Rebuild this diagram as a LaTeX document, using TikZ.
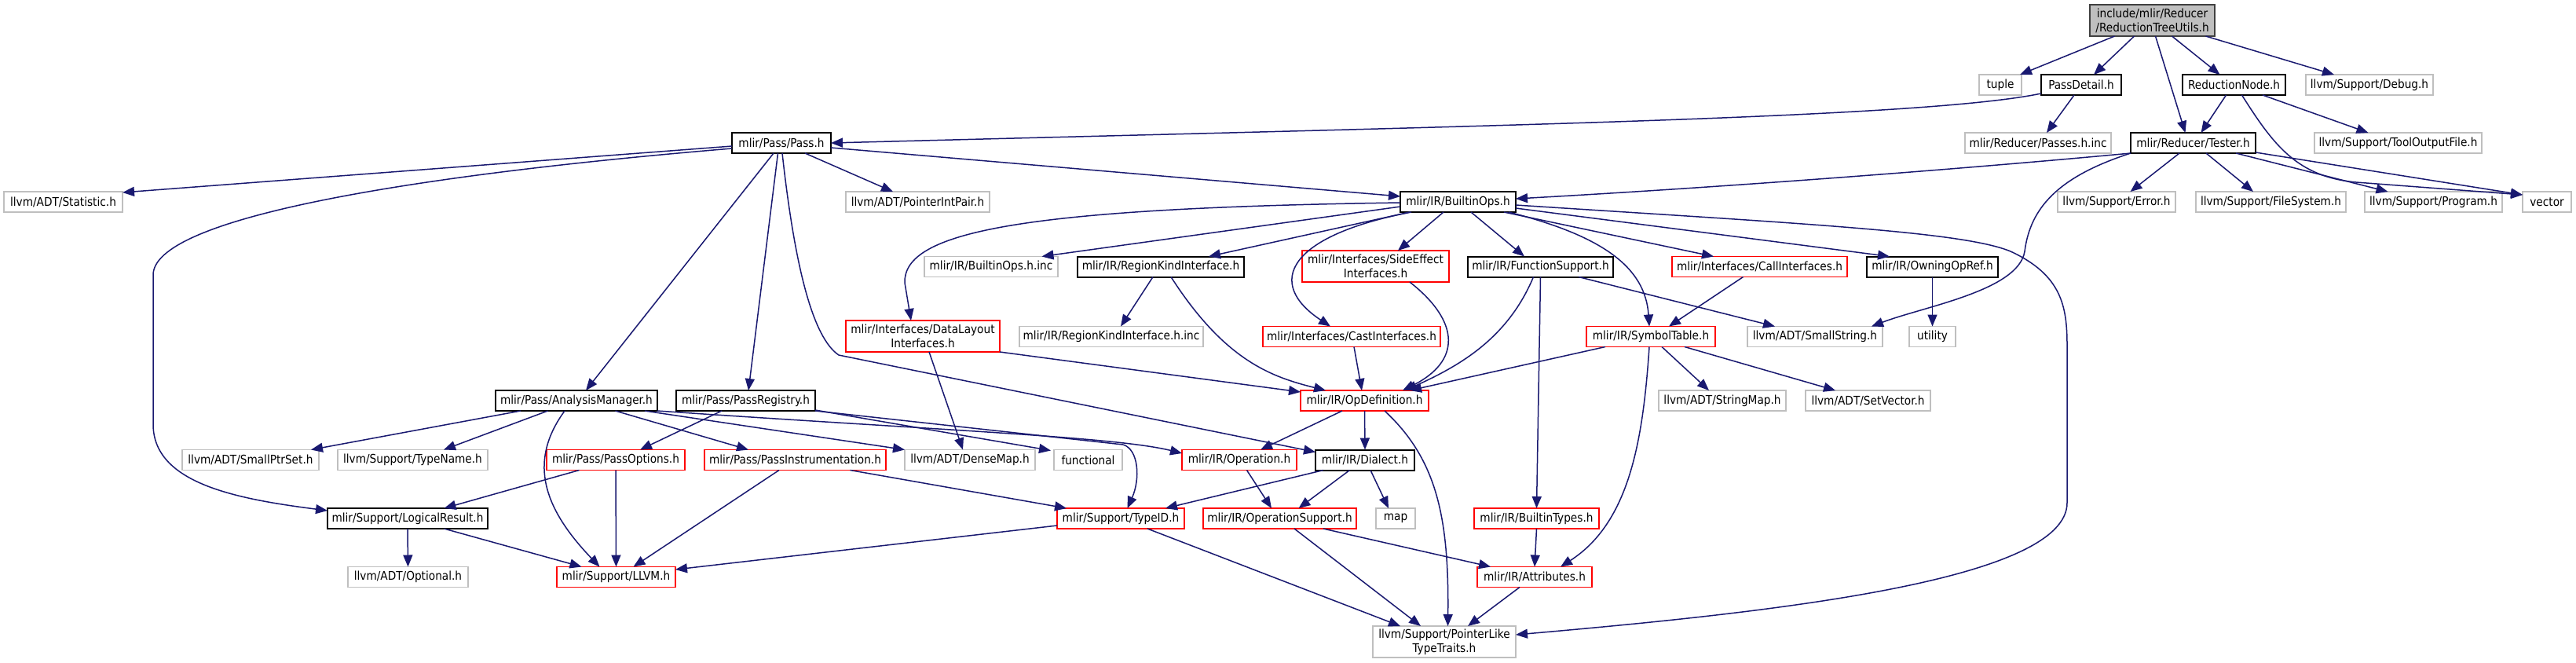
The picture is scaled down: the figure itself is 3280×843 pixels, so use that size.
\documentclass[tikz,border=0pt]{standalone}
\usepackage{fontspec}
\setmainfont{DejaVu Sans Condensed}
\usetikzlibrary{arrows.meta,calc}
\definecolor{edgeblue}{HTML}{191970}
\definecolor{gline}{HTML}{BFBFBF}
\definecolor{rline}{HTML}{FF0000}
\definecolor{rootfill}{HTML}{BFBFBF}
\definecolor{rootline}{HTML}{404040}
\begin{document}
\begin{tikzpicture}[x=0.5pt,y=-0.5pt,
  box/.style={draw, fill=white, inner sep=0pt, outer sep=0pt, line width=0.8pt, align=center,
    font=\fontsize{7.6}{9}\selectfont, minimum height=13pt},
  twoline/.style={minimum height=20pt},
  gbox/.style={box, draw=gline},
  rbox/.style={box, draw=rline},
  kbox/.style={box, draw=black, line width=1pt},
  rootbox/.style={box, draw=rootline, fill=rootfill, line width=1pt, twoline},
  edge/.style={draw=edgeblue, line width=0.75pt, -{Triangle[length=7.5pt,width=6pt]}}
]
\useasboundingbox[fill=white] (0,0) rectangle (3280,843);

% ---------------- nodes ----------------
\path
  (2740.5,26) node[rootbox, minimum width=79.5pt] (root) {include/mlir/Reducer\\/ReductionTreeUtils.h}
  (2547,108) node[gbox, minimum width=27pt] (tuple) {tuple}
  (2650,108) node[kbox, minimum width=51pt] (PassDetail) {PassDetail.h}
  (2844.5,108) node[kbox, minimum width=65.5pt] (ReductionNode) {ReductionNode.h}
  (3017,108) node[gbox, minimum width=81pt] (Debug) {llvm/Support/Debug.h}
  (995,182) node[kbox, minimum width=63pt] (Pass) {mlir/Pass/Pass.h}
  (2595,182) node[gbox, minimum width=93pt] (PassesInc) {mlir/Reducer/Passes.h.inc}
  (2792.5,182) node[kbox, minimum width=79.5pt] (Tester) {mlir/Reducer/Tester.h}
  (3053.5,182) node[gbox, minimum width=106.5pt] (ToolOutputFile) {llvm/Support/ToolOutputFile.h}
  (80.5,257) node[gbox, minimum width=75.5pt] (Statistic) {llvm/ADT/Statistic.h}
  (1168.5,257) node[gbox, minimum width=91.5pt] (PointerIntPair) {llvm/ADT/PointerIntPair.h}
  (1856.5,257) node[kbox, minimum width=73.5pt] (BuiltinOps) {mlir/IR/BuiltinOps.h}
  (2695,257) node[gbox, minimum width=75pt] (Error) {llvm/Support/Error.h}
  (2891.5,257) node[gbox, minimum width=95.5pt] (FileSystem) {llvm/Support/FileSystem.h}
  (3098.5,257) node[gbox, minimum width=87.5pt] (Program) {llvm/Support/Program.h}
  (3243,257) node[gbox, minimum width=31pt] (vector) {vector}
  (1262,339.5) node[gbox, minimum width=85pt] (BuiltinOpsInc) {mlir/IR/BuiltinOps.h.inc}
  (1478,339.5) node[kbox, minimum width=106pt] (RegionKind) {mlir/IR/RegionKindInterface.h}
  (1751.5,339) node[rbox, twoline, minimum width=93.5pt] (SideEffect) {mlir/Interfaces/SideEffect\\Interfaces.h}
  (1961.5,339.5) node[kbox, minimum width=92.5pt] (FunctionSupport) {mlir/IR/FunctionSupport.h}
  (2240.5,339.5) node[rbox, minimum width=111.5pt] (CallInterfaces) {mlir/Interfaces/CallInterfaces.h}
  (2460.5,339.5) node[kbox, minimum width=83.5pt] (OwningOpRef) {mlir/IR/OwningOpRef.h}
  (1175,428) node[rbox, twoline, minimum width=98pt] (DataLayout) {mlir/Interfaces/DataLayout\\Interfaces.h}
  (1415,428.5) node[gbox, minimum width=117pt] (RegionKindInc) {mlir/IR/RegionKindInterface.h.inc}
  (1721,428.5) node[rbox, minimum width=113pt] (CastInterfaces) {mlir/Interfaces/CastInterfaces.h}
  (2102,428.5) node[rbox, minimum width=82pt] (SymbolTable) {mlir/IR/SymbolTable.h}
  (2311,428.5) node[gbox, minimum width=86pt] (SmallString) {llvm/ADT/SmallString.h}
  (2460.5,428.5) node[gbox, minimum width=29.5pt] (utility) {utility}
  (734,510) node[kbox, minimum width=103pt] (AnalysisManager) {mlir/Pass/AnalysisManager.h}
  (949.5,510) node[kbox, minimum width=88.5pt] (PassRegistry) {mlir/Pass/PassRegistry.h}
  (1737.5,510) node[rbox, minimum width=81.5pt] (OpDefinition) {mlir/IR/OpDefinition.h}
  (2193,510) node[gbox, minimum width=81pt] (StringMap) {llvm/ADT/StringMap.h}
  (2378.5,510) node[gbox, minimum width=79.5pt] (SetVector) {llvm/ADT/SetVector.h}
  (319,585.5) node[gbox, minimum width=87pt] (SmallPtrSet) {llvm/ADT/SmallPtrSet.h}
  (525.5,585.5) node[gbox, minimum width=95.5pt] (TypeName) {llvm/Support/TypeName.h}
  (784,585.5) node[rbox, minimum width=88pt] (PassOptions) {mlir/Pass/PassOptions.h}
  (1012.5,585.5) node[rbox, minimum width=115.5pt] (PassInstrumentation) {mlir/Pass/PassInstrumentation.h}
  (1235,585.5) node[gbox, minimum width=83pt] (DenseMap) {llvm/ADT/DenseMap.h}
  (1385.5,585.5) node[gbox, minimum width=43.5pt] (functional) {functional}
  (1578,585.5) node[rbox, minimum width=73pt] (Operation) {mlir/IR/Operation.h}
  (1738,585.5) node[kbox, minimum width=63pt] (Dialect) {mlir/IR/Dialect.h}
  (519,660) node[kbox, minimum width=102pt] (LogicalResult) {mlir/Support/LogicalResult.h}
  (1427,660) node[rbox, minimum width=81pt] (TypeID) {mlir/Support/TypeID.h}
  (1629.5,660) node[rbox, minimum width=97.5pt] (OperationSupport) {mlir/IR/OperationSupport.h}
  (1777,660) node[gbox, minimum width=25pt] (map) {map}
  (1956.5,660) node[rbox, minimum width=79.5pt] (BuiltinTypes) {mlir/IR/BuiltinTypes.h}
  (519.5,734.5) node[gbox, minimum width=76.5pt] (Optional) {llvm/ADT/Optional.h}
  (784.5,734.5) node[rbox, minimum width=75.5pt] (LLVM) {mlir/Support/LLVM.h}
  (1954,734.5) node[rbox, minimum width=73pt] (Attributes) {mlir/IR/Attributes.h}
  (1839,817) node[gbox, twoline, minimum width=91pt] (PointerLike) {llvm/Support/PointerLike\\TypeTraits.h};

% ---------------- edges ----------------
\draw[edge] ($(root.south)+(-48,0)$) -- ($(tuple.north)+(25,0)$);
\draw[edge] ($(root.south)+(-23,0)$) -- ($(PassDetail.north)+(16,0)$);
\draw[edge] ($(root.south)+(4,0)$) -- ($(Tester.north)+(-10,0)$);
\draw[edge] ($(root.south)+(25,0)$) -- ($(ReductionNode.north)+(-18,0)$);
\draw[edge] ($(root.south)+(68,0)$) -- ($(Debug.north)+(-45,0)$);
\draw[edge] ($(PassDetail.south)+(-9,0)$) -- ($(PassesInc.north)+(11,0)$);
\draw[edge] ($(PassDetail.west)+(0,11)$) .. controls (2450,150) and (1900,160) .. (Pass.east);
\draw[edge] ($(ReductionNode.south)+(-10,0)$) -- ($(Tester.north)+(10,0)$);
\draw[edge] ($(ReductionNode.south)+(36.5,0)$) -- ($(ToolOutputFile.north)+(-38,0)$);
\draw[edge] ($(ReductionNode.south)+(10,0)$) .. controls (2895,185) and (2925,225) .. (3000,232) -- ($(vector.west)+(0,-9)$);
\draw[edge] ($(Tester.south)+(-17.5,0)$) -- ($(Error.north)+(17.5,0)$);
\draw[edge] ($(Tester.south)+(16.5,0)$) -- ($(FileSystem.north)+(-22.5,0)$);
\draw[edge] ($(Tester.south)+(54.5,0)$) -- ($(Program.north)+(-58,0)$);
\draw[edge] ($(Tester.east)+(0,12)$) -- ($(vector.west)+(0,-9)$);
\draw[edge] (Tester.south west) .. controls (2500,215) and (2200,238) .. ($(BuiltinOps.east)+(0,-4)$);
\draw[edge] (Tester.south west) .. controls (2620,225) and (2585,265) .. (2578,320) .. controls (2570,370) and (2450,390) .. ($(SmallString.north)+(72,0)$);

\draw[edge] ($(Pass.west)+(0,4)$) -- ($(Statistic.east)+(0,-12)$);
\draw[edge] ($(Pass.west)+(0,7)$) .. controls (500,225) and (195,280) .. (195,350) -- (195,540) .. controls (195,615) and (300,635) .. ($(LogicalResult.west)+(0,-10)$);
\draw[edge] ($(Pass.south)+(30,0)$) -- ($(PointerIntPair.north)+(-31.5,0)$);
\draw[edge] ($(Pass.south)+(-4.5,0)$) -- ($(PassRegistry.north)+(3.5,0)$);
\draw[edge] ($(Pass.south)+(-10,0)$) -- ($(AnalysisManager.north)+(12,0)$);
\draw[edge] ($(Pass.south)+(1,0)$) .. controls (1012,340) and (1035,430) .. (1068,452) -- ($(Dialect.west)+(0,-10)$);
\draw[edge] ($(Pass.east)+(0,6)$) -- ($(BuiltinOps.west)+(0,-7)$);

\draw[edge] ($(BuiltinOps.west)+(0,1)$) .. controls (1300,265) and (1150,295) .. (1152,360) -- ($(DataLayout.north)+(-15,0)$);
\draw[edge] ($(BuiltinOps.west)+(0,6)$) -- ($(BuiltinOpsInc.north)+(64.5,0)$);
\draw[edge] ($(BuiltinOps.south west)+(12,0)$) -- ($(RegionKind.north)+(61,0)$);
\draw[edge] ($(BuiltinOps.south west)+(14,0)$) .. controls (1640,300) and (1610,360) .. ($(CastInterfaces.north)+(-27,0)$);
\draw[edge] ($(BuiltinOps.south)+(-18.5,0)$) -- ($(SideEffect.north)+(28.5,0)$);
\draw[edge] ($(BuiltinOps.south)+(16.5,0)$) -- ($(FunctionSupport.north)+(-20.5,0)$);
\draw[edge] ($(BuiltinOps.south)+(58.5,0)$) -- ($(CallInterfaces.north)+(-58.5,0)$);
\draw[edge] ($(BuiltinOps.east)+(0,8)$) -- ($(OwningOpRef.north)+(-54.5,0)$);
\draw[edge] ($(BuiltinOps.south)+(64.5,0)$) .. controls (2040,300) and (2095,340) .. ($(SymbolTable.north)+(-2,0)$);
\draw[edge] ($(BuiltinOps.east)+(0,4)$) .. controls (2300,285) and (2500,295) .. (2560,320) .. controls (2625,350) and (2632,390) .. (2632,440) -- (2632,640) .. controls (2632,740) and (2250,780) .. ($(PointerLike.east)+(0,-9)$);

\draw[edge] ($(RegionKind.south)+(-10,0)$) -- ($(RegionKindInc.north)+(12,0)$);
\draw[edge] ($(RegionKind.south)+(13,0)$) .. controls (1560,460) and (1620,480) .. ($(OpDefinition.north west)+(32,0)$);
\draw[edge] (DataLayout.south east) -- ($(OpDefinition.west)+(0,-11)$);
\draw[edge] ($(DataLayout.south)+(8,0)$) -- ($(DenseMap.north)+(-9,0)$);
\draw[edge] ($(CastInterfaces.south)+(3,0)$) -- ($(OpDefinition.north)+(-3.5,0)$);
\draw[edge] ($(SideEffect.south)+(43.5,0)$) .. controls (1860,410) and (1860,460) .. ($(OpDefinition.north)+(48.5,0)$);
\draw[edge] ($(FunctionSupport.south)+(-9,0)$) .. controls (1920,430) and (1860,465) .. ($(OpDefinition.north)+(51.5,0)$);
\draw[edge] ($(SymbolTable.south)+(-58,0)$) -- ($(OpDefinition.north)+(57.5,0)$);
\draw[edge] ($(FunctionSupport.south)+(48.5,0)$) -- ($(SmallString.north)+(-51,0)$);
\draw[edge] (FunctionSupport.south) -- (BuiltinTypes.north);
\draw[edge] ($(CallInterfaces.south)+(-21,0)$) -- ($(SymbolTable.north)+(23,0)$);
\draw[edge] (OwningOpRef.south) -- (utility.north);
\draw[edge] ($(SymbolTable.south)+(14,0)$) -- ($(StringMap.north)+(-17,0)$);
\draw[edge] ($(SymbolTable.south)+(43,0)$) -- ($(SetVector.north)+(-41.5,0)$);
\draw[edge] ($(SymbolTable.south)+(-2,0)$) .. controls (2092,560) and (2075,665) .. ($(Attributes.north)+(33,0)$);

\draw[edge] (OpDefinition.south) -- (Dialect.north);
\draw[edge] ($(OpDefinition.south)+(25.5,0)$) .. controls (1830,585) and (1845,660) .. ($(PointerLike.north)+(4.5,0)$);
\draw[edge] ($(OpDefinition.south)+(-28.5,0)$) -- ($(Operation.north)+(27,0)$);
\draw[edge] ($(Dialect.south)+(7,0)$) -- ($(map.north)+(-9,0)$);
\draw[edge] ($(Dialect.south)+(-19.5,0)$) -- ($(OperationSupport.north)+(24,0)$);
\draw[edge] ($(Dialect.south west)+(10,0)$) -- ($(TypeID.north)+(57,0)$);
\draw[edge] ($(Operation.south)+(9.5,0)$) -- ($(OperationSupport.north)+(-10.5,0)$);
\draw[edge] ($(OperationSupport.south)+(55.5,0)$) -- ($(Attributes.north)+(-56,0)$);
\draw[edge] ($(OperationSupport.south)+(18.5,0)$) -- ($(PointerLike.north)+(-30,0)$);
\draw[edge] ($(TypeID.south)+(34,0)$) -- ($(PointerLike.north)+(-56,0)$);
\draw[edge] ($(TypeID.west)+(0,9)$) -- ($(LLVM.east)+(0,-9.5)$);
\draw[edge] (BuiltinTypes.south) -- (Attributes.north);
\draw[edge] ($(Attributes.south)+(-19,0)$) -- ($(PointerLike.north)+(30,0)$);

\draw[edge] ($(PassRegistry.south)+(-30.5,0)$) -- ($(PassOptions.north)+(31,0)$);
\draw[edge] ($(PassRegistry.east)+(0,12)$) -- ($(functional.north west)+(-4,1)$);
\draw[edge] (PassRegistry.south east) -- (1430,566) .. controls (1450,572) and (1452,610) .. ($(TypeID.north)+(8.5,0)$);
\draw[edge] ($(AnalysisManager.south)+(49.5,0)$) -- ($(PassInstrumentation.north)+(-59.5,0)$);
\draw[edge] ($(AnalysisManager.south east)+(-16,0)$) -- (DenseMap.north west);
\draw[edge] (AnalysisManager.south east) .. controls (1200,548) and (1420,556) .. ($(Operation.west)+(0,-8.5)$);
\draw[edge] ($(AnalysisManager.south)+(-71,0)$) -- ($(SmallPtrSet.north)+(77,0)$);
\draw[edge] ($(AnalysisManager.south)+(-36.5,0)$) -- ($(TypeName.north)+(39.5,0)$);
\draw[edge] ($(AnalysisManager.south)+(-15,0)$) .. controls (670,590) and (695,650) .. ($(LLVM.north)+(-21,0)$);
\draw[edge] ($(PassOptions.south)+(-46.5,0)$) -- ($(LogicalResult.north)+(46.5,0)$);
\draw[edge] (PassOptions.south) -- (LLVM.north);
\draw[edge] ($(PassInstrumentation.south)+(-20.5,0)$) -- ($(LLVM.north)+(22,0)$);
\draw[edge] ($(PassInstrumentation.south)+(70,0)$) -- ($(TypeID.north)+(-69,0)$);
\draw[edge] (LogicalResult.south) -- (Optional.north);
\draw[edge] ($(LogicalResult.south)+(46.5,0)$) -- ($(LLVM.north)+(-44,0)$);
\end{tikzpicture}
\end{document}
